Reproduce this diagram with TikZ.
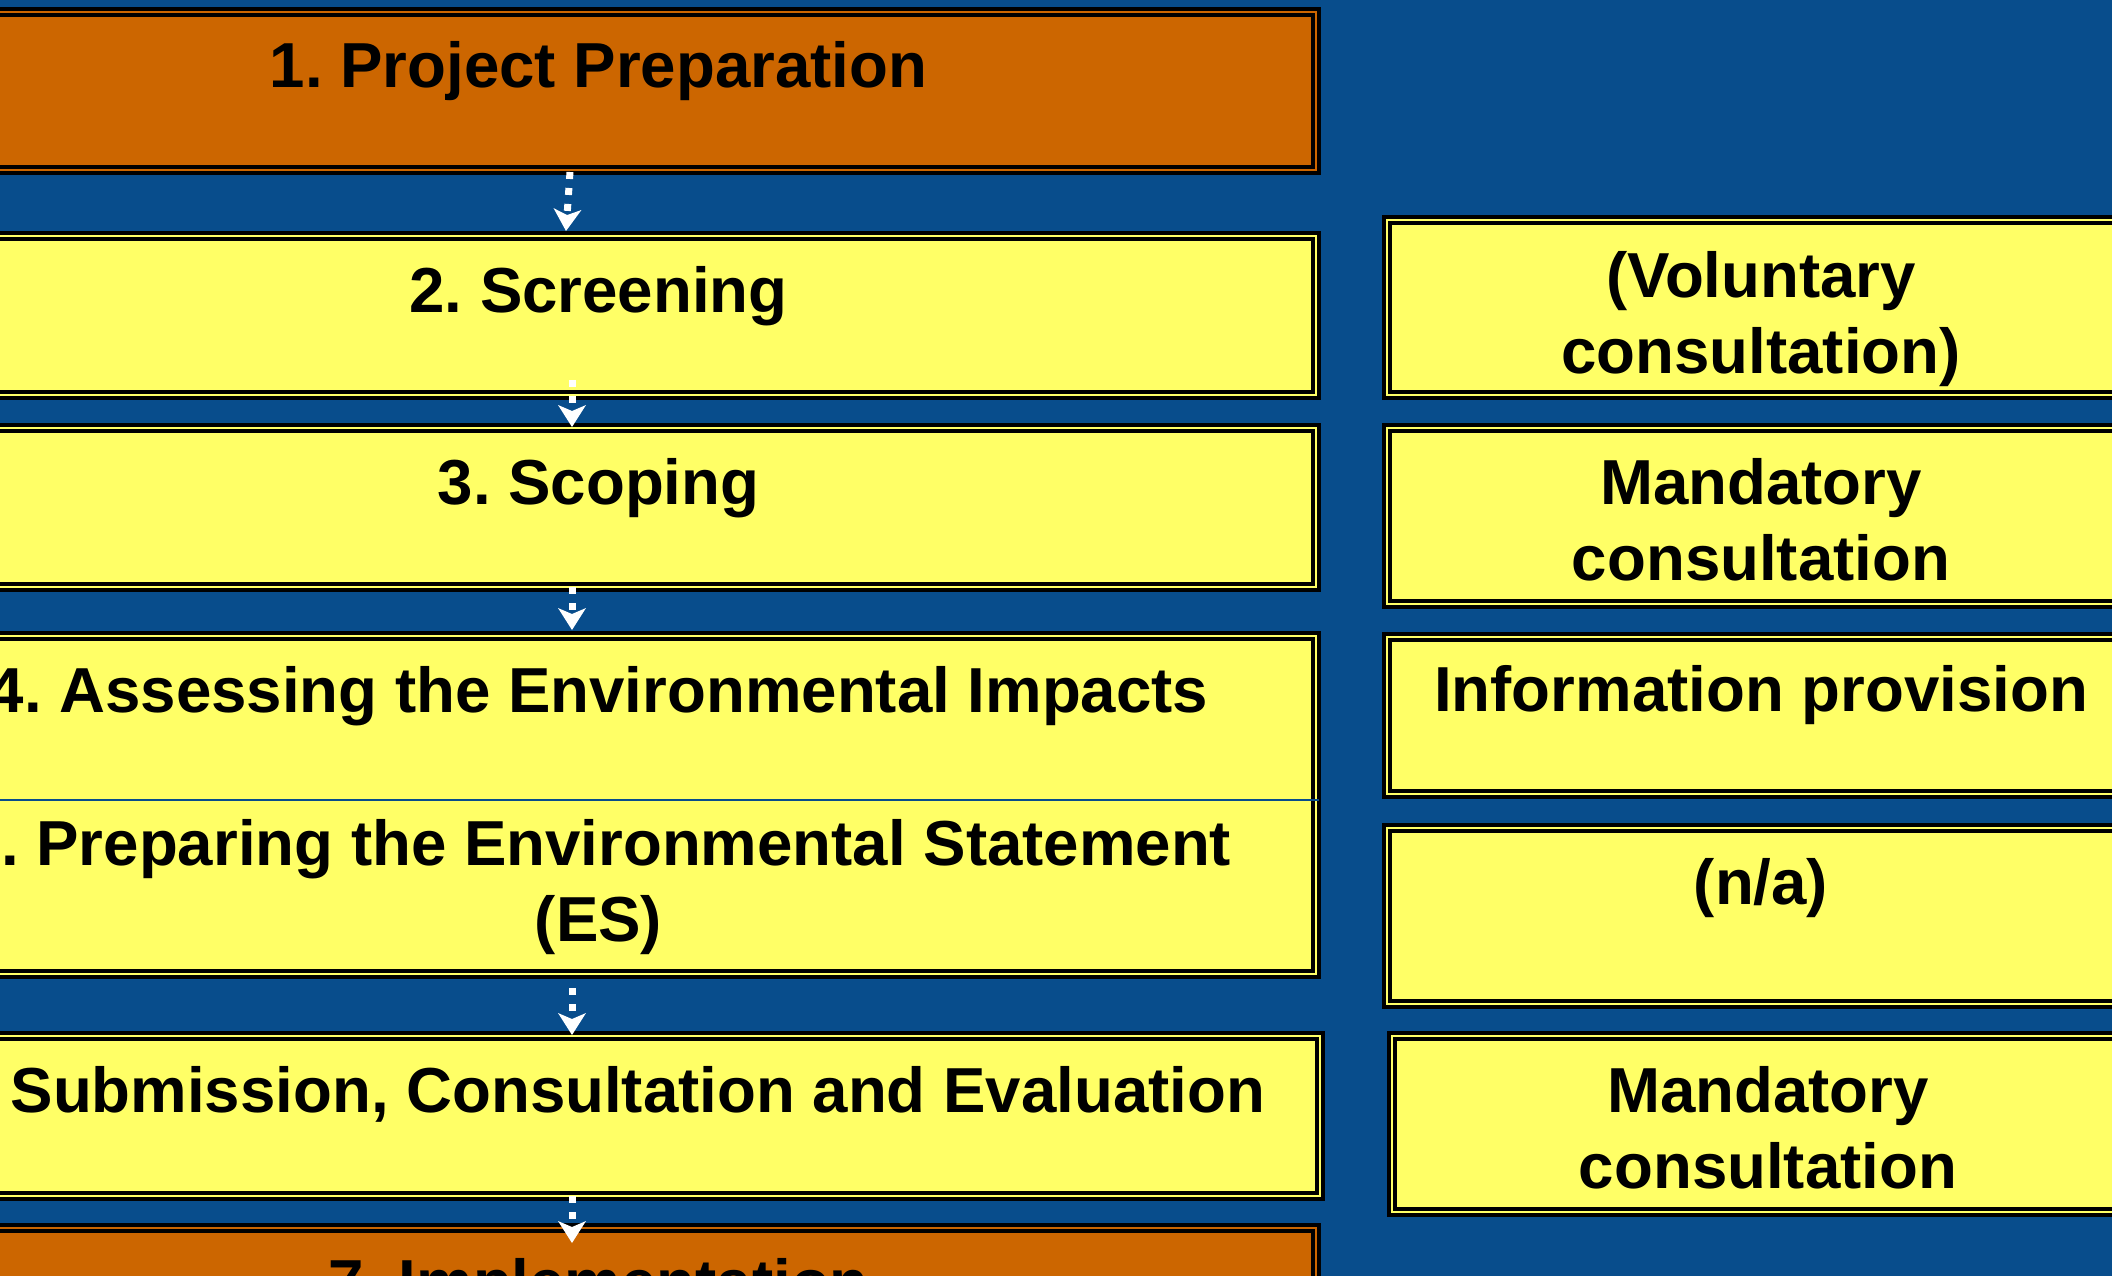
\documentclass[tikz,border=0pt]{standalone}
\usepackage{fontspec}
\setmainfont{Liberation Sans}
\usetikzlibrary{arrows.meta,fit}
\definecolor{bgblue}{RGB}{8,77,140}
\definecolor{boxorange}{RGB}{204,102,0}
\definecolor{boxyellow}{RGB}{255,255,102}
\newcommand\stagefont{\fontsize{63.6pt}{76pt}\selectfont\bfseries\frenchspacing}
\newcommand\twolines[2]{\begin{tabular}[t]{@{}c@{}}#1\\#2\end{tabular}}
\begin{document}
\frenchspacing
\begin{tikzpicture}[x=1pt,y=-1pt,
  stage/.style={draw=black, line width=4pt, double distance=2pt, rectangle, inner sep=0pt, outer sep=0pt},
  ylw/.style={stage, fill=boxyellow, double=boxyellow},
  org/.style={stage, fill=boxorange, double=boxorange},
  txt/.style={anchor=base, inner sep=0pt, outer sep=0pt, font=\stagefont, text=black},
  flow/.style={draw=white, line width=7pt, dash pattern=on 7pt off 9pt, -{Stealth[length=22pt 0 0,width=28pt 0 0,inset=6pt,line width=0pt,fill=white]}},
  divider/.style={draw=bgblue, line width=1.5pt}]
\useasboundingbox (0,0) rectangle (2112,1276);
\clip (0,0) rectangle (2112,1276);
\fill[bgblue] (0,0) rectangle (2112,1276);

% left column
\node[org, fit={(-119,12) (1316,170)}] (b1) {};
\node[ylw, fit={(-119,236) (1316,395)}] (b2) {};
\node[ylw, fit={(-119,428) (1316,587)}] (b3) {};
\node[ylw, fit={(-119,636) (1316,974)}] (b4) {};
\node[ylw, fit={(-119,1036) (1320,1196)}] (b6) {};
\node[org, fit={(-119,1228) (1316,1395)}] (b7) {};

% right column
\node[ylw, fit={(1387,220) (2135,395)}] (r1) {};
\node[ylw, fit={(1387,428) (2135,604)}] (r2) {};
\node[ylw, fit={(1387,637) (2135,794)}] (r3) {};
\node[ylw, fit={(1387,828) (2135,1004)}] (r4) {};
\node[ylw, fit={(1392,1036) (2144,1212)}] (r5) {};

\draw[divider] ([yshift=-164pt]b4.north west) -- ([yshift=-164pt,xshift=3pt]b4.north east);

% texts
\node[txt] (t1) at ([yshift=-76pt]b1.north) {1. Project Preparation};
\node[txt] (t2) at ([yshift=-76pt]b2.north) {2. Screening};
\node[txt] (t3) at ([yshift=-76pt]b3.north) {3. Scoping};
\node[txt] (t4) at ([yshift=-76pt]b4.north) {4. Assessing the Environmental Impacts};
\node[txt] (t5) at ([yshift=-229pt]b4.north) {\twolines{5. Preparing the Environmental Statement}{(ES)}};
\node[txt] (t6) at ([xshift=2pt,yshift=-76pt]b6.north) {6. Submission, Consultation and Evaluation};
\node[txt] (t7) at ([yshift=-76pt]b7.north) {7. Implementation};

\node[txt] (s1) at ([yshift=-77pt]r1.north) {\twolines{(Voluntary}{consultation)}};
\node[txt] (s2) at ([yshift=-76pt]r2.north) {\twolines{Mandatory}{consultation}};
\node[txt] (s3) at ([yshift=-74pt]r3.north) {Information provision};
\node[txt] (s4) at ([yshift=-76pt]r4.north) {(n/a)};
\node[txt] (s5) at ([yshift=-76pt]r5.north) {\twolines{Mandatory}{consultation}};

% connectors
\draw[flow] ([xshift=-28.5pt,yshift=-2pt]b1.south) -- ([xshift=-32.5pt,yshift=5pt]b2.north);
\draw[flow] ([xshift=-26.5pt,yshift=15pt]b2.south) -- ([xshift=-26.5pt,yshift=1pt]b3.north);
\draw[flow] ([xshift=-26.5pt]b3.south) -- ([xshift=-26.5pt,yshift=6pt]b4.north);
\draw[flow] ([xshift=-26.5pt,yshift=-14pt]b4.south) -- ([xshift=-28.5pt,yshift=1pt]b6.north);
\draw[flow] ([xshift=-28.5pt]b6.south) -- ([xshift=-26.5pt,yshift=-15pt]b7.north);
\end{tikzpicture}
\end{document}
